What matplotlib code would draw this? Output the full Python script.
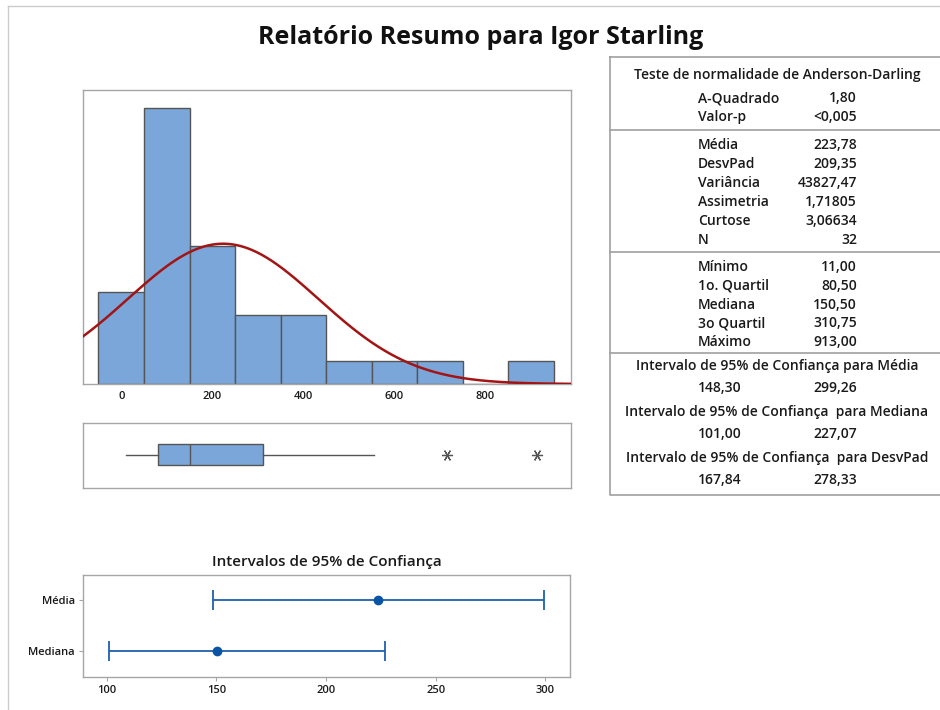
import numpy as np
import matplotlib
matplotlib.use("Agg")
import matplotlib.pyplot as plt
from matplotlib.lines import Line2D
from matplotlib import font_manager as fm

plt.rcParams['font.family'] = ['Open Sans', 'DejaVu Sans']

# ---------------- data ----------------
title = "Relatório Resumo para Igor Starling"
bin_centers = [0, 100, 200, 300, 400, 500, 600, 700, 800, 900]
bin_counts = [4, 12, 6, 3, 3, 1, 1, 1, 0, 1]
bin_width = 100
hist_xticks = [0, 200, 400, 600, 800]

mean_val = 223.78
sd_val = 209.35
n_val = 32

box_min = 11.0
box_q1 = 80.5
box_med = 150.5
box_q3 = 310.75
box_whisker_hi = 555.0
box_outliers = [716.0, 913.0]

ci_labels = ["Média", "Mediana"]
ci_centers = [223.78, 150.50]
ci_lows = [148.30, 101.00]
ci_highs = [299.26, 227.07]
ci_xticks = [100, 150, 200, 250, 300]
ci_title = "Intervalos de 95% de Confiança"

ad_header = "Teste de normalidade de Anderson-Darling"
ad_rows = [("A-Quadrado", "1,80"), ("Valor-p", "<0,005")]
moment_rows = [("Média", "223,78"), ("DesvPad", "209,35"), ("Variância", "43827,47"),
               ("Assimetria", "1,71805"), ("Curtose", "3,06634"), ("N", "32")]
quart_rows = [("Mínimo", "11,00"), ("1o. Quartil", "80,50"), ("Mediana", "150,50"),
              ("3o Quartil", "310,75"), ("Máximo", "913,00")]
ci_table = [("Intervalo de 95% de Confiança para Média", "148,30", "299,26"),
            ("Intervalo de 95% de Confiança  para Mediana", "101,00", "227,07"),
            ("Intervalo de 95% de Confiança  para DesvPad", "167,84", "278,33")]

# ---------------- style ----------------
W, H = 940, 710
bar_fc = "#7BA6D9"
bar_ec = "#555555"
curve_c = "#A31515"
spine_c = "#A6A6A6"
ci_c = "#1F5FAD"
txt_c = "#1A1A1A"
SB = "semibold"

fig = plt.figure(figsize=(W / 100, H / 100), dpi=100)

def fa(x0, y0, x1, y1):
    return [x0 / W, 1 - y1 / H, (x1 - x0) / W, (y1 - y0) / H]

# background axes in pixel coordinates (frame, title, table)
bg = fig.add_axes([0, 0, 1, 1])
bg.set_xlim(0, W)
bg.set_ylim(H, 0)
bg.axis("off")
bg.add_line(Line2D([8, 8], [6, H], color="#CCCCCC", lw=1))
bg.add_line(Line2D([8, W], [6, 6], color="#CCCCCC", lw=1))
bg.text(481, 37, title, ha="center", va="center", fontsize=18, fontweight="bold", color="#111111")

# ---------------- histogram ----------------
xlim = (-84, 988)
ax = fig.add_axes(fa(83, 90, 571, 384))
ax.bar(bin_centers, bin_counts, width=bin_width, color=bar_fc, edgecolor=bar_ec, linewidth=1, zorder=2)
xs = np.linspace(xlim[0], xlim[1], 400)
pdf = n_val * bin_width / (sd_val * np.sqrt(2 * np.pi)) * np.exp(-0.5 * ((xs - mean_val) / sd_val) ** 2)
ax.plot(xs, pdf, color=curve_c, lw=1.8, zorder=3)
ax.set_xlim(*xlim)
ax.set_ylim(0, 12.78)
ax.set_yticks([])
ax.set_xticks(hist_xticks)
ax.tick_params(axis="x", length=0, pad=5, labelsize=8, labelcolor=txt_c)
for s in ax.spines.values():
    s.set_color(spine_c)
    s.set_linewidth(1)

# ---------------- boxplot ----------------
axb = fig.add_axes(fa(83, 423, 571, 488))
stats = [dict(med=box_med, q1=box_q1, q3=box_q3, whislo=box_min, whishi=box_whisker_hi,
              fliers=box_outliers)]
axb.bxp(stats, positions=[0.0], vert=False, widths=0.66, patch_artist=True, showcaps=False,
        boxprops=dict(facecolor=bar_fc, edgecolor=bar_ec, linewidth=1),
        medianprops=dict(color=bar_ec, linewidth=1),
        whiskerprops=dict(color=bar_ec, linewidth=1),
        flierprops=dict(marker=(6, 2, 90), markersize=8, markeredgecolor="#555555",
                        markeredgewidth=0.9, linestyle="none"))
axb.set_xlim(*xlim)
axb.set_ylim(-1.03, 0.97)
axb.set_xticks([])
axb.set_yticks([])
for s in axb.spines.values():
    s.set_color(spine_c)
    s.set_linewidth(1)

# ---------------- confidence intervals ----------------
axc = fig.add_axes(fa(83.3, 574.7, 570.3, 676.7))
ypos = [1, 0]
for y, c, lo, hi in zip(ypos, ci_centers, ci_lows, ci_highs):
    axc.errorbar([c], [y], xerr=[[c - lo], [hi - c]], fmt="o", color=ci_c, ecolor=ci_c,
                 markerfacecolor="#0A54A6", markeredgecolor="#0A54A6", markersize=6,
                 elinewidth=1.3, capsize=7.5, capthick=1.3)
axc.set_xlim(89.3, 311.4)
axc.set_ylim(-0.5, 1.5)
axc.set_xticks(ci_xticks)
axc.set_yticks(ypos)
axc.set_yticklabels(ci_labels)
axc.tick_params(axis="both", length=3, width=0.8, color=spine_c, labelsize=8, labelcolor=txt_c, pad=3)
for s in axc.spines.values():
    s.set_color(spine_c)
    s.set_linewidth(1)
axc.set_title(ci_title, fontsize=11, fontweight=SB, color=txt_c, pad=6)

for a in (ax, axc):
    for lab in a.get_xticklabels() + a.get_yticklabels():
        lab.set_fontweight(SB)

# ---------------- stats table ----------------
tx0, tx1, ty0, ty1 = 610, W + 5, 56.7, 495
bg.add_line(Line2D([tx0, tx1, tx1, tx0, tx0], [ty0, ty0, ty1, ty1, ty0], color="#A0A0A0", lw=1.2, clip_on=False))
for ysep in [130, 251.7, 352.7]:
    bg.add_line(Line2D([tx0, tx1], [ysep, ysep], color="#A0A0A0", lw=1.2))

fs = 10
cx = 777
lx = 698
vx = 857
bg.text(cx, 75, ad_header, ha="center", va="center", fontsize=fs, fontweight=SB, color=txt_c)

def rows(rr, y0, dy=19):
    for i, (lab, val) in enumerate(rr):
        y = y0 + i * dy
        bg.text(lx, y, lab, ha="left", va="center", fontsize=fs, fontweight=SB, color=txt_c)
        bg.text(vx, y, val, ha="right", va="center", fontsize=fs, fontweight=SB, color=txt_c)

rows(ad_rows, 98.3)
rows(moment_rows, 145, 18.9)
rows(quart_rows, 267, 18.8)

for i, (hdr, lo, hi) in enumerate(ci_table):
    yh = 366 + i * 46
    bg.text(cx, yh, hdr, ha="center", va="center", fontsize=fs, fontweight=SB, color=txt_c)
    bg.text(lx, yh + 22.5, lo, ha="left", va="center", fontsize=fs, fontweight=SB, color=txt_c)
    bg.text(vx, yh + 22.5, hi, ha="right", va="center", fontsize=fs, fontweight=SB, color=txt_c)

fig.savefig("out.png", dpi=100)
